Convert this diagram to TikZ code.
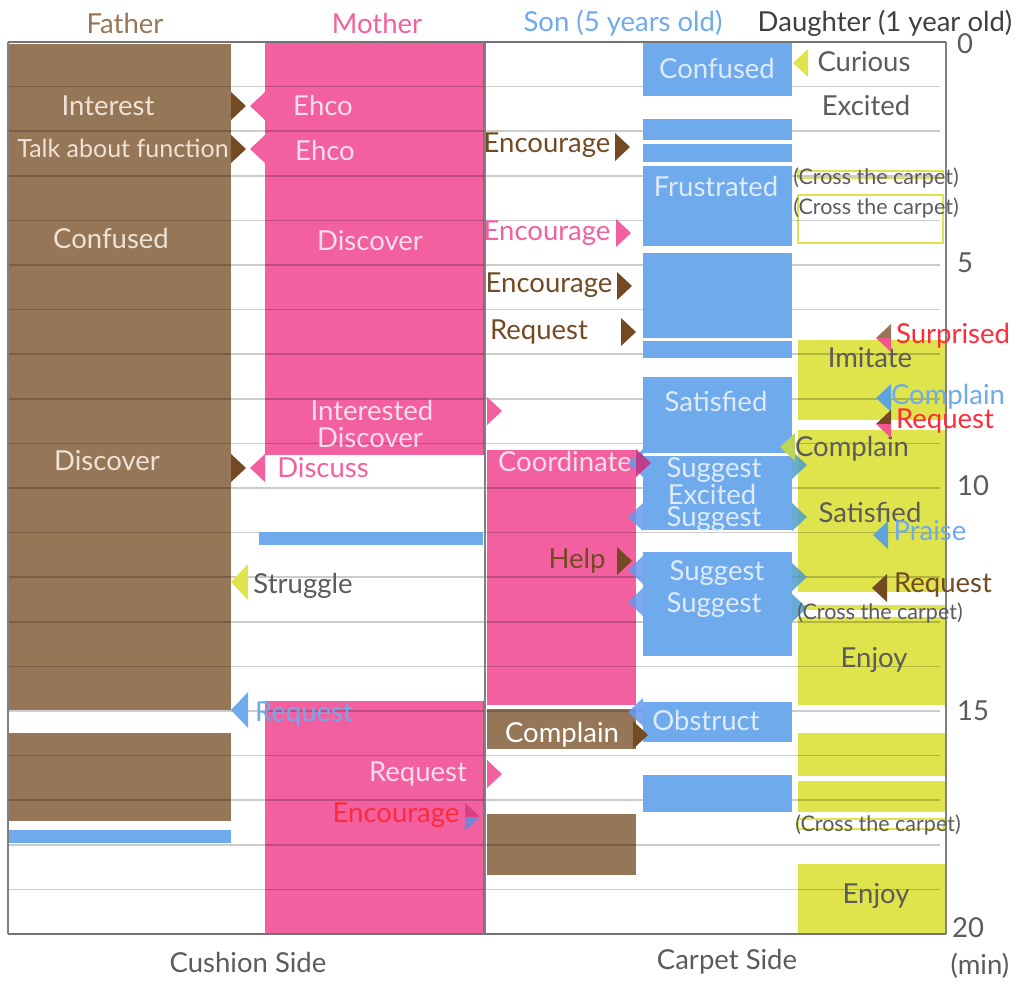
\documentclass[tikz,border=0pt]{standalone}
\usepackage{fontspec}
\setmainfont{Lato}
\definecolor{fatherC}{HTML}{957657}
\definecolor{fatherDk}{HTML}{734A22}
\definecolor{motherC}{HTML}{F2609F}
\definecolor{motherDk}{HTML}{DA3F83}
\definecolor{sonC}{HTML}{6FAAEC}
\definecolor{daughterC}{HTML}{DFE34C}
\definecolor{redC}{HTML}{FF2B3B}
\definecolor{grayTxt}{HTML}{5B5B5B}
\definecolor{lightBrown}{HTML}{EEE3D6}
\definecolor{lightPink}{HTML}{FCDDEB}
\definecolor{lightBlue}{HTML}{DDEBFB}
% right / left pointing markers
\newcommand\trir[3]{\fill[#3] (#1,#2-14) -- ++(15,14) -- ++(-15,14) -- cycle;}
\newcommand\tril[3]{\fill[#3] (#1,#2-14) -- ++(-15,14) -- ++(15,14) -- cycle;}
\newcommand\triltwo[4]{\fill[#3] (#1,#2) -- (#1,#2-14) -- ++(-15,14) -- cycle;
  \fill[#4] (#1,#2) -- (#1,#2+14) -- ++(-15,-14) -- cycle;}
\newcommand\trirtwo[4]{\fill[#3] (#1,#2) -- (#1,#2-14) -- ++(15,14) -- cycle;
  \fill[#4] (#1,#2) -- (#1,#2+14) -- ++(15,-14) -- cycle;}
\begin{document}
\begin{tikzpicture}[x=1pt, y=-1pt,
  labelStyle/.style={inner sep=0pt, font=\fontsize{27.5}{29}\selectfont},
  smallStyle/.style={inner sep=0pt, font=\fontsize{21.5}{23}\selectfont, text=grayTxt},
  fatherBox/.style={fill=fatherC},
  motherBox/.style={fill=motherC},
  sonBox/.style={fill=sonC},
  daughterBox/.style={fill=daughterC},
  gridStyle/.style={draw=black, opacity=0.2, line width=1.6pt},
  frameStyle/.style={draw=gray, line width=1.6pt}]
  \useasboundingbox (0,0) rectangle (1019,985);
  % father, cushion side
  \fill[fatherBox] (8,44) rectangle (231,710);
  \fill[fatherBox] (8,733) rectangle (231,821);
  % mother, cushion side
  \fill[motherBox] (265,42) rectangle (486,455);
  \fill[motherBox] (265,701) rectangle (486,934);
  \draw[motherDk, line width=2.5pt] (484,42) -- (484,455);
  \draw[motherDk, line width=2.5pt] (484,701) -- (484,934);
  % parents, carpet side
  \fill[motherBox] (487,450) rectangle (636,705);
  \fill[fatherBox] (487,709) rectangle (636,749);
  \fill[fatherBox] (487,814) rectangle (636,875);
  % daughter
  \draw[daughterC, line width=2pt] (798,171) rectangle (943,178);
  \draw[daughterC, line width=2pt] (798,195) rectangle (943,243);
  \fill[daughterBox] (798,340) rectangle (946,420);
  \fill[daughterBox] (798,430) rectangle (946,592);
  \fill[daughterBox] (798,605) rectangle (946,610);
  \fill[daughterBox] (798,617) rectangle (946,705);
  \fill[daughterBox] (798,733) rectangle (946,776);
  \fill[daughterBox] (798,781) rectangle (946,812);
  \draw[daughterC, line width=2pt] (798,819) rectangle (944,829);
  \fill[daughterBox] (798,864) rectangle (946,934);
  % grid, one line per minute
  \foreach \k in {1,...,19}
    \draw[gridStyle] (8,42+44.6*\k) -- (940,42+44.6*\k);
  % son
  \fill[sonBox] (8,830) rectangle (231,843);
  \fill[sonBox] (259,532) rectangle (483,545);
  \foreach \ya/\yb in {42/96, 119/140, 144/162, 166/246, 253/338, 341/358,
                       377/453, 456/530, 552/656, 702/742, 775/812}
    \fill[sonBox] (643,\ya) rectangle (792,\yb);
  % frame
  \draw[frameStyle] (485,42) -- (485,934);
  \draw[frameStyle] (946,42) -- (946,934);
  \draw[frameStyle] (8,42) -- (8,934);
  \draw[frameStyle, draw=black!55] (8,42) -- (946,42);
  \draw[frameStyle, draw=black!55] (8,934) -- (946,934);

  % titles
  \node[labelStyle, text=fatherC] (title_father) at (125,23) {Father};
  \node[labelStyle, text=motherC] (title_mother) at (377,23) {Mother};
  \node[labelStyle, text=sonC] (title_son) at (623,23) {Son (5 years old)};
  \node[labelStyle, text=black!75] (title_daughter) at (885,23) {Daughter (1 year old)};
  \node[labelStyle, text=grayTxt] (side_cushion) at (248,962) {Cushion Side};
  \node[labelStyle, text=grayTxt] (side_carpet) at (727,962) {Carpet Side};
  % axis
  \node[labelStyle, text=grayTxt] (axis_0) at (965,44) {0};
  \node[labelStyle, text=grayTxt] (axis_5) at (965,263) {5};
  \node[labelStyle, text=grayTxt] (axis_10) at (973,486) {10};
  \node[labelStyle, text=grayTxt] (axis_15) at (973,711) {15};
  \node[labelStyle, text=grayTxt] (axis_20) at (968,928) {20};
  \node[labelStyle, text=grayTxt] (axis_min) at (980,966) {(min)};

  % father
  \node[labelStyle, text=lightBrown] (father_L0) at (108,106) {Interest};
  \node[labelStyle, text=lightBrown, font=\fontsize{25}{27}\selectfont] (father_L1) at (123,148) {Talk about function};
  \node[labelStyle, text=lightBrown] (father_L2) at (111,238) {Confused};
  \node[labelStyle, text=lightBrown] (father_L3) at (107,461) {Discover};
  \trir{231}{106}{fatherDk}
  \trir{231}{149}{fatherDk}
  \trir{231}{468}{fatherDk}
  % mother
  \node[labelStyle, text=lightPink] (mother_L0) at (323,105) {Ehco};
  \node[labelStyle, text=lightPink] (mother_L1) at (325,150) {Ehco};
  \node[labelStyle, text=lightPink] (mother_L2) at (370,241) {Discover};
  \node[labelStyle, text=lightPink] (mother_L3) at (372,410) {Interested};
  \node[labelStyle, text=lightPink] (mother_L4) at (370,438) {Discover};
  \node[labelStyle, text=motherC] (mother_L5) at (323,468) {Discuss};
  \node[labelStyle, text=lightPink] (mother_L6) at (418,774) {Request};
  \node[labelStyle, text=redC] (mother_L7) at (396,815) {Encourage};
  \tril{265}{106}{motherC}
  \tril{265}{149}{motherC}
  \tril{265}{468}{motherC}
  \trir{487}{411}{motherC}
  \trir{487}{774}{motherC}
  \trirtwo{465}{817}{motherDk}{sonC!80!violet}
  \node[labelStyle, text=grayTxt] (cushion_L0) at (303,586) {Struggle};
  \node[labelStyle, text=sonC] (cushion_L1) at (304,714) {Request};
  \fill[daughterC] (248,564) -- (231,582) -- (248,600) -- cycle;
  \fill[sonC] (248,692) -- (231,710) -- (248,728) -- cycle;

  % parents on the carpet
  \node[labelStyle, text=fatherDk] (carpet_L0) at (547,145) {Encourage};
  \node[labelStyle, text=motherC] (carpet_L1) at (547,233) {Encourage};
  \node[labelStyle, text=fatherDk] (carpet_L2) at (549,285) {Encourage};
  \node[labelStyle, text=fatherDk] (carpet_L3) at (539,332) {Request};
  \node[labelStyle, text=lightPink] (carpet_L4) at (565,461) {Coordinate};
  \node[labelStyle, text=fatherDk] (carpet_L5) at (577,561) {Help};
  \node[labelStyle, text=white] (carpet_L6) at (562,735) {Complain};
  \trir{615}{147}{fatherDk}
  \trir{616}{233}{motherC}
  \trir{617}{286}{fatherDk}
  \trir{621}{332}{fatherDk}
  \trir{617}{561}{fatherDk}

  % son
  \node[labelStyle, text=lightBlue] (son_L0) at (717,68) {Confused};
  \node[labelStyle, text=lightBlue] (son_L1) at (716,186) {Frustrated};
  \node[labelStyle, text=lightBlue] (son_L2) at (716,401) {Satisfied};
  \node[labelStyle, text=lightBlue] (son_L3) at (714,470) {Suggest};
  \node[labelStyle, text=lightBlue] (son_L4) at (712,494) {Excited};
  \node[labelStyle, text=lightBlue] (son_L5) at (714,519) {Suggest};
  \node[labelStyle, text=lightBlue] (son_L6) at (717,573) {Suggest};
  \node[labelStyle, text=lightBlue] (son_L7) at (714,605) {Suggest};
  \node[labelStyle, text=lightBlue] (son_L8) at (706,720) {Obstruct};
  \foreach \y in {463,517,570,602,712}
    {\tril{643}{\y}{sonC!90!blue, opacity=0.85}}
  \foreach \y in {465,517,577,608}
    {\trir{792}{\y}{sonC!70!teal, opacity=0.85}}
  \trir{636}{463}{motherDk!80!violet, opacity=0.9}
  \trir{633}{735}{fatherDk}

  % daughter
  \node[labelStyle, text=grayTxt] (daughter_L0) at (864,62) {Curious};
  \node[labelStyle, text=grayTxt] (daughter_L1) at (866,105) {Excited};
  \node[smallStyle] (daughter_L2) at (876,178) {(Cross the carpet)};
  \node[smallStyle] (daughter_L3) at (876,208) {(Cross the carpet)};
  \node[labelStyle, text=redC] (daughter_L4) at (953,336) {Surprised};
  \node[labelStyle, text=grayTxt] (daughter_L5) at (870,358) {Imitate};
  \node[labelStyle, text=sonC] (daughter_L6) at (948,397) {Complain};
  \node[labelStyle, text=redC] (daughter_L7) at (945,421) {Request};
  \node[labelStyle, text=grayTxt] (daughter_L8) at (852,449) {Complain};
  \node[labelStyle, text=grayTxt] (daughter_L9) at (870,512) {Satisfied};
  \node[labelStyle, text=sonC] (daughter_L10) at (930,531) {Praise};
  \node[labelStyle, text=fatherDk] (daughter_L11) at (943,585) {Request};
  \node[smallStyle] (daughter_L12) at (880,613) {(Cross the carpet)};
  \node[labelStyle, text=grayTxt] (daughter_L13) at (874,660) {Enjoy};
  \node[smallStyle] (daughter_L14) at (878,825) {(Cross the carpet)};
  \node[labelStyle, text=grayTxt] (daughter_L15) at (876,896) {Enjoy};
  \tril{808}{63}{daughterC}
  \tril{795}{447}{daughterC!85!teal}
  \triltwo{891}{338}{fatherC}{motherC!90!red}
  \tril{891}{398}{sonC!85!teal}
  \triltwo{891}{424}{fatherDk}{motherC!90!red}
  \tril{888}{535}{sonC!85!teal}
  \tril{887}{588}{fatherDk}
\end{tikzpicture}
\end{document}
